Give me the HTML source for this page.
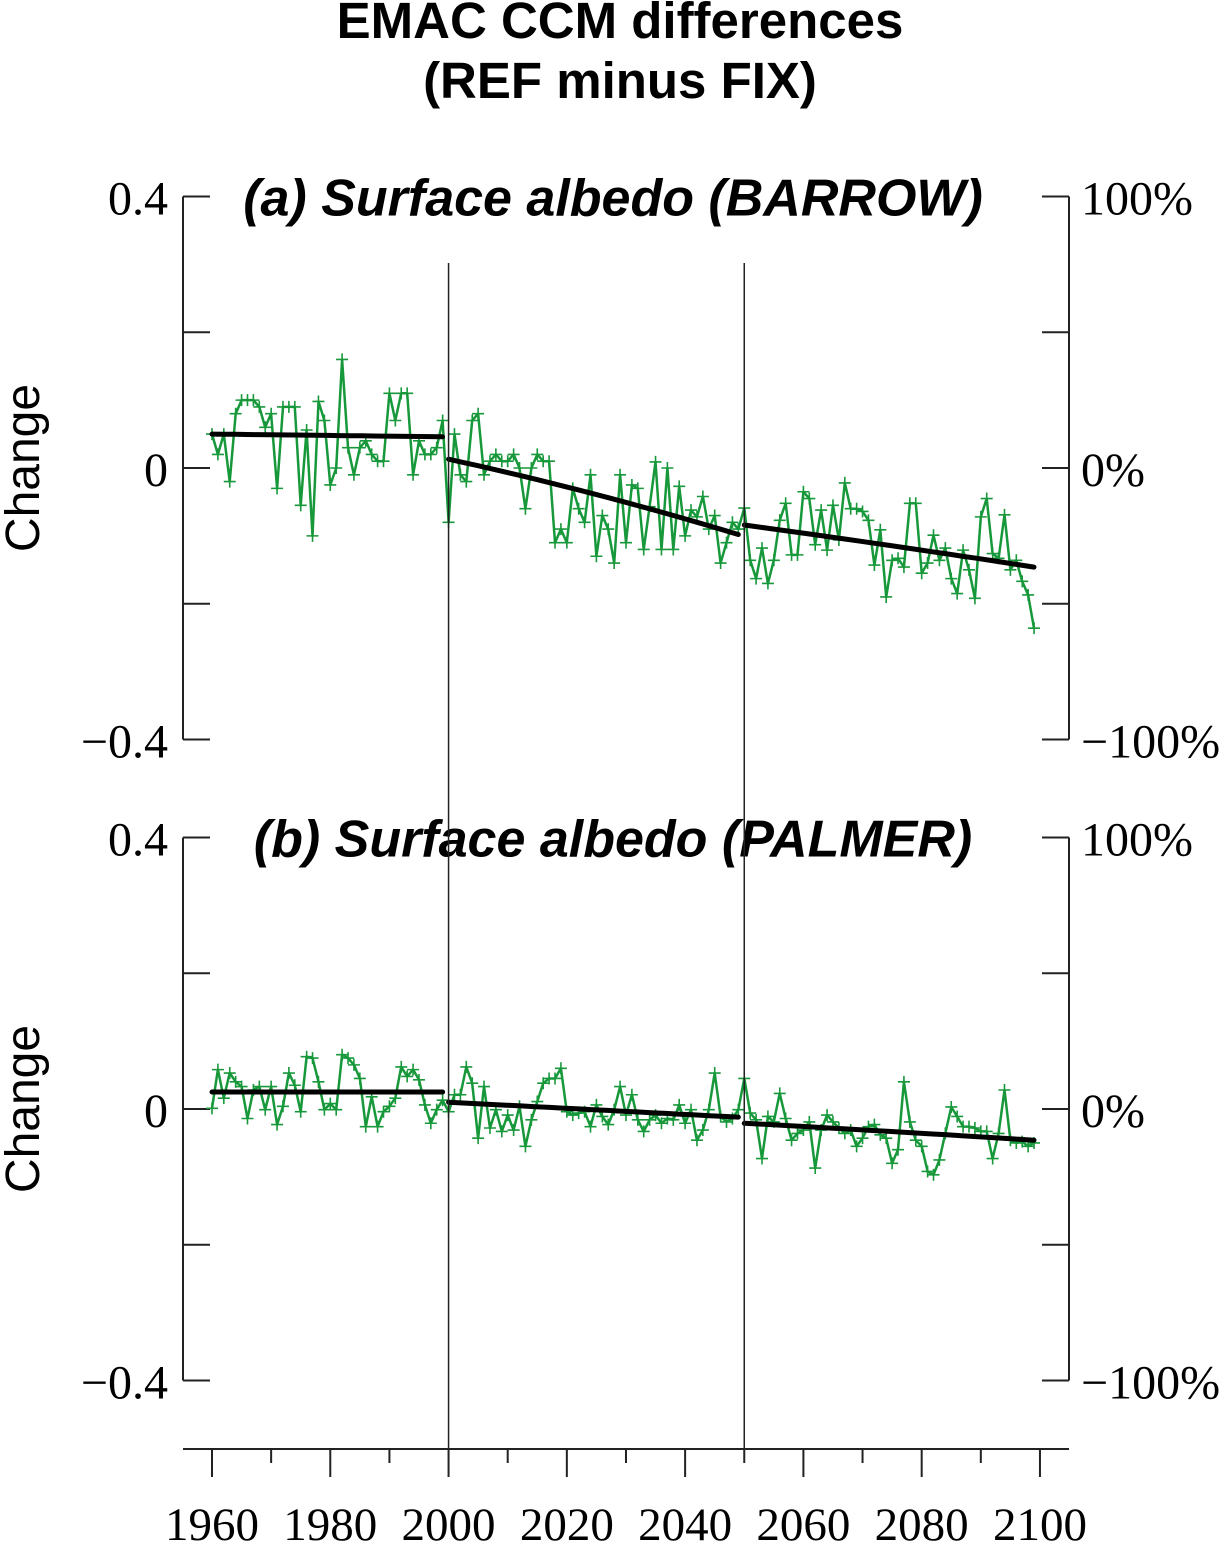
<!DOCTYPE html>
<html><head><meta charset="utf-8"><style>
html,body{margin:0;padding:0;background:#fff;}
svg{display:block;}
</style></head><body>
<svg id="chart" width="1225" height="1543" viewBox="0 0 1225 1543" xmlns="http://www.w3.org/2000/svg">
<text x="620" y="38" text-anchor="middle" font-family="Liberation Sans, sans-serif" font-weight="bold" font-size="51">EMAC CCM differences</text>
<text x="620" y="98" text-anchor="middle" font-family="Liberation Sans, sans-serif" font-weight="bold" font-size="51">(REF minus FIX)</text>
<g id="plots"></g>
</svg>
<script>
const years = Array.from({length:140},(_,i)=>1960+i);
const seriesA = [
0.05,0.02,0.05,-0.02,0.08,0.1,0.1,0.1,0.09,0.06,
0.08,-0.03,0.09,0.09,0.09,-0.055,0.056,-0.1,0.098,0.07,
-0.025,0.0,0.16,0.03,-0.01,0.03,0.04,0.02,0.01,0.01,
0.11,0.07,0.11,0.11,-0.01,0.04,0.02,0.02,0.03,0.07,
-0.08,0.05,-0.01,-0.02,0.07,0.08,-0.01,0.01,0.02,0.01,
0.01,0.02,0.0,-0.06,0.0,0.02,0.01,0.01,-0.11,-0.09,
-0.11,-0.03,-0.06,-0.08,-0.01,-0.13,-0.07,
-0.09,-0.14,-0.01,-0.11,-0.025,-0.03,-0.12,-0.057,0.009,-0.12,0.0,-0.12,-0.027,-0.1,-0.062,-0.072,-0.042,-0.09,-0.07,-0.14,-0.11,-0.08,-0.09,-0.059,
-0.136,-0.163,-0.118,-0.17,-0.136,-0.077,-0.052,-0.128,-0.128,-0.035,-0.045,-0.113,-0.062,-0.121,-0.055,-0.106,-0.022,-0.06,-0.06,-0.064,-0.077,-0.143,-0.091,-0.19,-0.136,-0.133,-0.146,-0.052,-0.052,-0.155,-0.14,-0.099,-0.136,-0.118,-0.163,-0.185,-0.121,-0.15,-0.192,-0.072,-0.045,-0.126,-0.133,-0.069,-0.15,-0.136,-0.167,-0.187,-0.236
];
const seriesB = [
0.001,0.058,0.016,0.053,0.040,0.033,-0.014,0.028,0.033,-0.001,0.033,-0.023,0.004,0.053,0.035,-0.004,0.077,0.075,0.040,-0.001,0.008,-0.001,0.080,0.075,0.065,0.045,-0.026,0.018,-0.026,-0.004,0.004,0.016,0.062,0.048,0.058,0.043,0.006,-0.021,-0.001,0.013,
-0.004,0.021,0.021,0.062,0.038,-0.043,0.033,-0.028,-0.001,-0.033,-0.009,-0.031,0.004,-0.055,-0.016,0.011,0.038,0.045,0.045,0.060,-0.004,-0.009,-0.006,-0.004,-0.026,0.006,-0.011,
-0.023,-0.001,0.033,-0.009,0.021,-0.016,-0.033,-0.016,-0.009,-0.021,-0.014,-0.016,0.006,-0.021,-0.001,-0.046,-0.031,-0.001,0.053,-0.011,-0.019,-0.014,-0.001,
0.045,-0.006,-0.016,-0.073,-0.011,-0.019,0.023,-0.014,-0.046,-0.036,-0.031,-0.019,-0.087,-0.031,-0.009,-0.019,-0.028,-0.036,-0.031,-0.055,-0.043,-0.026,-0.023,-0.038,-0.043,-0.080,-0.060,0.040,-0.019,-0.046,-0.055,-0.092,-0.097,-0.075,-0.036,0.003,-0.011,-0.026,-0.026,-0.028,-0.033,-0.033,-0.073,-0.036,0.028,-0.046,-0.050,-0.048,-0.055,-0.050
];
// trend segments: [startYear, endYear, startValue, midValue, endValue]
const trendA = [[1960,1999,0.050,0.048,0.046],[2000,2049,0.013,-0.038,-0.098],[2050,2099,-0.084,-0.114,-0.146]];
const trendB = [[1960,1999,0.025,0.025,0.025],[2000,2049,0.010,-0.001,-0.012],[2050,2099,-0.021,-0.033,-0.046]];
const leftTicks = [0.4,0.2,0,-0.2,-0.4];
const leftLabels = ["0.4","","0","","\u22120.4"];
const rightLabels = ["100%","","0%","","\u2212100%"];
const xTickYears = [1960,1970,1980,1990,2000,2010,2020,2030,2040,2050,2060,2070,2080,2090,2100];
const xLabelYears = [1960,1980,2000,2020,2040,2060,2080,2100];
const dividerYears = [2000,2050];

const NS='http://www.w3.org/2000/svg';
const root=document.getElementById('plots');
function mk(tag,attrs,parent){const e=document.createElementNS(NS,tag);for(const k in attrs)e.setAttribute(k,attrs[k]);(parent||root).appendChild(e);return e;}
const xs = y => 212 + (y-1960)*5.914;
const L=183,R=1069;

function panel(zero, series, trend, title, key){
  const ys = v => zero - v*678.75;
  const g=mk('g',{});
  
  
  const la=mk('line',{x1:L,x2:L,y1:ys(0.4),y2:ys(-0.4),stroke:'#222','stroke-width':2},g);
  
  
  const ra=mk('line',{x1:R,x2:R,y1:ys(0.4),y2:ys(-0.4),stroke:'#222','stroke-width':2},g);
  
  
  leftTicks.forEach((t,i)=>{
    const y=ys(t);
    mk('line',{x1:L,x2:L+27,y1:y,y2:y,stroke:'#222','stroke-width':2},g);
    mk('line',{x1:R,x2:R-27,y1:y,y2:y,stroke:'#222','stroke-width':2},g);
    if(leftLabels[i]){
      const tl=mk('text',{x:168,y:y+18,'text-anchor':'end','font-family':'Liberation Serif, serif','font-size':48},g);
      tl.textContent=leftLabels[i];
      
      
      const tr=mk('text',{x:1081,y:y+18,'font-family':'Liberation Serif, serif','font-size':48},g);
      tr.textContent=rightLabels[i];
      
      
    }
  });
  const yt=mk('text',{x:0,y:0,'text-anchor':'middle','font-family':'Liberation Sans, sans-serif','font-size':48,transform:`translate(39,${zero}) rotate(-90)`},g);
  yt.textContent='Change';
  
  
  const pt=mk('text',{x:613,y:ys(0.4)+19,'text-anchor':'middle','font-family':'Liberation Sans, sans-serif','font-size':52,'font-weight':'bold','font-style':'italic'},g);
  pt.textContent=title;
  
  
  const d=series.map((v,i)=>(i?'L':'M')+xs(years[i]).toFixed(1)+','+ys(v).toFixed(1)).join(' ');
  const ln=mk('path',{d:d,fill:'none',stroke:'#17983a','stroke-width':2.5,'stroke-linejoin':'round'},g);
  
  
  series.forEach((v,i)=>{
    const x=xs(years[i]),y=ys(v);
    const m=mk('path',{d:`M${x-6},${y}H${x+6}M${x},${y-6}V${y+6}`,stroke:'#17983a','stroke-width':1.6},g);
    
    
  });
  trend.forEach(s=>{
    const [a,b,v0,v1,v2]=s;const pts=[];
    for(let k=0;k<=20;k++){const t=k/20;
      const v=v0*2*(t-0.5)*(t-1)+v1*(-4)*t*(t-1)+v2*2*t*(t-0.5);
      pts.push(xs(a+(b-a)*t).toFixed(1)+','+ys(v).toFixed(1));}
    const tl=mk('polyline',{points:pts.join(' '),fill:'none',stroke:'#000','stroke-width':5,'stroke-linecap':'round'},g);
    
    
  });
}
panel(468, seriesA, trendA, '(a) Surface albedo (BARROW)', 'a');
panel(1109, seriesB, trendB, '(b) Surface albedo (PALMER)', 'b');

dividerYears.forEach(yr=>{
  const v=mk('line',{x1:xs(yr),x2:xs(yr),y1:263,y2:1449,stroke:'#222','stroke-width':1.5});
  
  
});
const xa=mk('line',{x1:L,x2:R,y1:1449,y2:1449,stroke:'#222','stroke-width':2});


xTickYears.forEach(yr=>{
  const major=(yr%20===0);
  mk('line',{x1:xs(yr),x2:xs(yr),y1:1449,y2:major?1477:1463,stroke:'#222','stroke-width':2});
});
xLabelYears.forEach(yr=>{
  const t=mk('text',{x:xs(yr),y:1540,'text-anchor':'middle','font-family':'Liberation Serif, serif','font-size':47});
  t.textContent=String(yr);
  
  
});
</script>
</body></html>
